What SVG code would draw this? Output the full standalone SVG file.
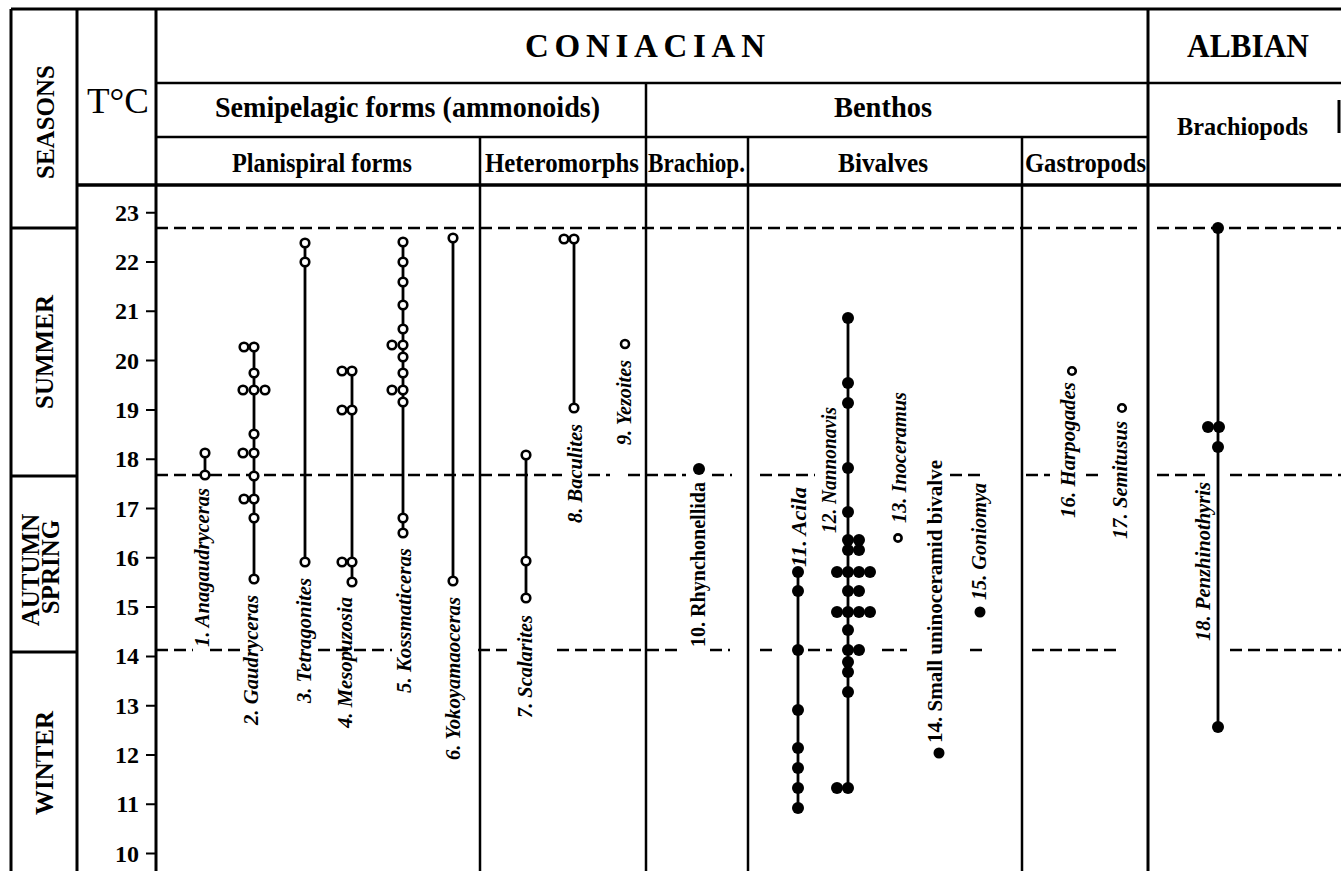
<svg xmlns="http://www.w3.org/2000/svg" width="1341" height="871" viewBox="0 0 1341 871">
<style>
.ln{stroke:#000;fill:none;stroke-width:2.2}
.b3{stroke-width:3}
.b35{stroke-width:3.5}
.dash{stroke:#000;stroke-width:2.4;stroke-dasharray:12 6;fill:none}
.rng{stroke:#000;stroke-width:2.8}
.o{fill:#fff;stroke:#000;stroke-width:2.6}
.f{fill:#000}
text{font-family:"Liberation Serif","Times New Roman",serif;fill:#000}
.lab{font-size:22px;font-weight:bold;font-style:italic}
.labu{font-size:22px;font-weight:bold}
.h1{font-size:33px;font-weight:bold}
.h2{font-size:30px;font-weight:bold}
.h3{font-size:27px;font-weight:bold}
.sea{font-size:25px;font-weight:bold;text-anchor:middle}
.tk{font-size:24px;font-weight:bold;text-anchor:end}
</style>
<rect width="1341" height="871" fill="#fff"/>
<g id="frame">
<path class="ln b3" d="M11 9H1341M11 9V871M77 9V871M156 9V871M1148 9V871M11 228H77M11 476H77M11 652H77M1339 100V133"/>
<path class="ln" d="M156 83H1341M156 137H1148M480 137V871M646 83V871M748 137V871M1022 137V871" style="stroke-width:2.5"/>
<path class="ln b35" d="M77 185H1341"/>
</g>
<g id="headers">
<text class="h1" x="525" y="57" textLength="240" lengthAdjust="spacing">CONIACIAN</text>
<text class="h1" x="1187" y="57" textLength="122" lengthAdjust="spacingAndGlyphs">ALBIAN</text>
<text x="87" y="113" style="font-size:36px" textLength="62" lengthAdjust="spacingAndGlyphs">T°C</text>
<text class="h2" x="215" y="117" textLength="385" lengthAdjust="spacingAndGlyphs">Semipelagic forms (ammonoids)</text>
<text class="h2" x="834" y="117" textLength="98" lengthAdjust="spacingAndGlyphs">Benthos</text>
<text class="h3" x="232" y="172" textLength="180" lengthAdjust="spacingAndGlyphs">Planispiral forms</text>
<text class="h3" x="485" y="172" textLength="154" lengthAdjust="spacingAndGlyphs">Heteromorphs</text>
<text class="h3" x="648" y="172" textLength="97" lengthAdjust="spacingAndGlyphs">Brachiop.</text>
<text class="h3" x="838" y="172" textLength="90" lengthAdjust="spacingAndGlyphs">Bivalves</text>
<text class="h3" x="1025" y="172" textLength="121" lengthAdjust="spacingAndGlyphs">Gastropods</text>
<text class="h3" x="1177" y="135" style="font-size:25px" textLength="131" lengthAdjust="spacingAndGlyphs">Brachiopods</text>
</g>
<g id="seasons">
<text class="sea" transform="translate(54,122) rotate(-90)">SEASONS</text>
<text class="sea" transform="translate(53,352) rotate(-90)">SUMMER</text>
<text class="sea" transform="translate(39,570) rotate(-90)">AUTUMN</text>
<text class="sea" transform="translate(59,567) rotate(-90)">SPRING</text>
<text class="sea" transform="translate(53,763) rotate(-90)">WINTER</text>
</g>
<g id="axis">
<path class="ln" style="stroke-width:2" d="M146 212.7H156M146 262H156M146 311.3H156M146 360.6H156M146 409.9H156M146 459.2H156M146 508.5H156M146 557.8H156M146 607.1H156M146 656.4H156M146 705.7H156M146 755H156M146 804.3H156M146 853.6H156"/>
<text class="tk" x="139" y="220.7">23</text>
<text class="tk" x="139" y="270">22</text>
<text class="tk" x="139" y="319.3">21</text>
<text class="tk" x="139" y="368.6">20</text>
<text class="tk" x="139" y="417.9">19</text>
<text class="tk" x="139" y="467.2">18</text>
<text class="tk" x="139" y="516.5">17</text>
<text class="tk" x="139" y="565.8">16</text>
<text class="tk" x="139" y="615.1">15</text>
<text class="tk" x="139" y="664.4">14</text>
<text class="tk" x="139" y="713.7">13</text>
<text class="tk" x="139" y="763">12</text>
<text class="tk" x="139" y="812.3">11</text>
<text class="tk" x="139" y="861.6">10</text>
</g>
<g id="connectors">
<path class="dash" d="M156 228H1137M1157 228H1341"/>
<path class="dash" d="M156 475H562M588 475H610M628 475H686M712 475H732M760 475H815M950 475H985M1026 475H1050M1086 475H1104M1157 475H1207M1230 475H1341"/>
<path class="dash" d="M156 650H193M210 650H243M318 650H392M478 650H507M557 650H682M710 650H730M760 650H773M808 650H832M882 650H907M970 650H983M1032 650H1120M1230 650H1341"/>
</g>
<g id="sp1">
<path class="rng" d="M205 453V475"/>
<circle class="o" cx="205" cy="453" r="4.3"/><circle class="o" cx="205" cy="475" r="4.3"/>
<text class="lab" transform="translate(209,647) rotate(-90)" textLength="159" lengthAdjust="spacingAndGlyphs">1. Anagaudryceras</text>
</g>
<g id="sp2">
<path class="rng" d="M254 347V579"/>
<circle class="o" cx="244" cy="347" r="4.3"/><circle class="o" cx="254" cy="347" r="4.3"/>
<circle class="o" cx="254" cy="373" r="4.3"/>
<circle class="o" cx="243" cy="390" r="4.3"/><circle class="o" cx="265" cy="390" r="4.3"/><circle class="o" cx="254" cy="390" r="4.3"/>
<circle class="o" cx="254" cy="434" r="4.3"/>
<circle class="o" cx="243" cy="453" r="4.3"/><circle class="o" cx="254" cy="453" r="4.3"/>
<circle class="o" cx="254" cy="476" r="4.3"/>
<circle class="o" cx="244" cy="499" r="4.3"/><circle class="o" cx="254" cy="499" r="4.3"/>
<circle class="o" cx="254" cy="518" r="4.3"/>
<circle class="o" cx="254" cy="579" r="4.3"/>
<text class="lab" transform="translate(258,725) rotate(-90)" textLength="130" lengthAdjust="spacingAndGlyphs">2. Gaudryceras</text>
</g>
<g id="sp3">
<path class="rng" d="M305 243V562"/>
<circle class="o" cx="305" cy="243" r="4.3"/><circle class="o" cx="305" cy="262" r="4.3"/><circle class="o" cx="305" cy="562" r="4.3"/>
<text class="lab" transform="translate(311,703) rotate(-90)" textLength="125" lengthAdjust="spacingAndGlyphs">3. Tetragonites</text>
</g>
<g id="sp4">
<path class="rng" d="M352 371V582"/>
<circle class="o" cx="342" cy="371" r="4.3"/><circle class="o" cx="352" cy="371" r="4.3"/>
<circle class="o" cx="342" cy="410" r="4.3"/><circle class="o" cx="352" cy="410" r="4.3"/>
<circle class="o" cx="342" cy="562" r="4.3"/><circle class="o" cx="352" cy="562" r="4.3"/>
<circle class="o" cx="352" cy="582" r="4.3"/>
<text class="lab" transform="translate(352,728) rotate(-90)" textLength="131" lengthAdjust="spacingAndGlyphs">4. Mesopuzosia</text>
</g>
<g id="sp5">
<path class="rng" d="M403 242V533"/>
<circle class="o" cx="403" cy="242" r="4.3"/><circle class="o" cx="403" cy="262" r="4.3"/><circle class="o" cx="403" cy="282" r="4.3"/>
<circle class="o" cx="403" cy="305" r="4.3"/><circle class="o" cx="403" cy="329" r="4.3"/>
<circle class="o" cx="392" cy="345" r="4.3"/><circle class="o" cx="403" cy="345" r="4.3"/>
<circle class="o" cx="403" cy="357" r="4.3"/><circle class="o" cx="403" cy="373" r="4.3"/>
<circle class="o" cx="392" cy="390" r="4.3"/><circle class="o" cx="403" cy="390" r="4.3"/>
<circle class="o" cx="403" cy="402" r="4.3"/>
<circle class="o" cx="403" cy="518" r="4.3"/><circle class="o" cx="403" cy="533" r="4.3"/>
<text class="lab" transform="translate(411,693) rotate(-90)" textLength="145" lengthAdjust="spacingAndGlyphs">5. Kossmaticeras</text>
</g>
<g id="sp6">
<path class="rng" d="M453 238V581"/>
<circle class="o" cx="453" cy="238" r="4.3"/><circle class="o" cx="453" cy="581" r="4.3"/>
<text class="lab" transform="translate(460,760) rotate(-90)" textLength="163" lengthAdjust="spacingAndGlyphs">6. Yokoyamaoceras</text>
</g>
<g id="sp7">
<path class="rng" d="M526 455V598"/>
<circle class="o" cx="526" cy="455" r="4.3"/><circle class="o" cx="526" cy="561" r="4.3"/><circle class="o" cx="526" cy="598" r="4.3"/>
<text class="lab" transform="translate(532,718) rotate(-90)" textLength="103" lengthAdjust="spacingAndGlyphs">7. Scalarites</text>
</g>
<g id="sp8">
<path class="rng" d="M574 239V408"/>
<circle class="o" cx="564" cy="239" r="4.3"/><circle class="o" cx="574" cy="239" r="4.3"/><circle class="o" cx="574" cy="408" r="4.3"/>
<text class="lab" transform="translate(582,523) rotate(-90)" textLength="99" lengthAdjust="spacingAndGlyphs">8. Baculites</text>
</g>
<g id="sp9">
<circle class="o" cx="625" cy="344" r="4"/>
<text class="lab" transform="translate(631,445) rotate(-90)" textLength="85" lengthAdjust="spacingAndGlyphs">9. Yezoites</text>
</g>
<g id="sp10">
<circle class="f" cx="699" cy="469" r="6"/>
<text class="labu" transform="translate(705,647) rotate(-90)" textLength="165" lengthAdjust="spacingAndGlyphs">10. Rhynchonellida</text>
</g>
<g id="sp11">
<path class="rng" d="M798 572V808"/>
<circle class="f" cx="798" cy="572" r="6"/><circle class="f" cx="798" cy="591" r="6"/><circle class="f" cx="798" cy="650" r="6"/>
<circle class="f" cx="798" cy="710" r="6"/><circle class="f" cx="798" cy="748" r="6"/><circle class="f" cx="798" cy="768" r="6"/>
<circle class="f" cx="798" cy="788" r="6"/><circle class="f" cx="798" cy="808" r="6"/>
<text class="lab" transform="translate(806,567) rotate(-90)" textLength="80" lengthAdjust="spacingAndGlyphs">11. Acila</text>
</g>
<g id="sp12">
<path class="rng" d="M848 318V788"/>
<circle class="f" cx="848" cy="318" r="6"/><circle class="f" cx="848" cy="383" r="6"/><circle class="f" cx="848" cy="403" r="6"/>
<circle class="f" cx="848" cy="468" r="6"/><circle class="f" cx="848" cy="512" r="6"/>
<circle class="f" cx="848" cy="540" r="6"/><circle class="f" cx="859" cy="540" r="6"/>
<circle class="f" cx="848" cy="550" r="6"/><circle class="f" cx="859" cy="550" r="6"/>
<circle class="f" cx="837" cy="572" r="6"/><circle class="f" cx="848" cy="572" r="6"/><circle class="f" cx="859" cy="572" r="6"/><circle class="f" cx="870" cy="572" r="6"/>
<circle class="f" cx="848" cy="591" r="6"/><circle class="f" cx="859" cy="591" r="6"/>
<circle class="f" cx="837" cy="612" r="6"/><circle class="f" cx="848" cy="612" r="6"/><circle class="f" cx="859" cy="612" r="6"/><circle class="f" cx="870" cy="612" r="6"/>
<circle class="f" cx="848" cy="630" r="6"/>
<circle class="f" cx="848" cy="650" r="6"/><circle class="f" cx="859" cy="650" r="6"/>
<circle class="f" cx="848" cy="662" r="6"/><circle class="f" cx="848" cy="672" r="6"/><circle class="f" cx="848" cy="692" r="6"/>
<circle class="f" cx="837" cy="788" r="6"/><circle class="f" cx="848" cy="788" r="6"/>
<text class="lab" transform="translate(836,533) rotate(-90)" textLength="126" lengthAdjust="spacingAndGlyphs">12. Nannonavis</text>
</g>
<g id="sp13">
<circle class="o" cx="898" cy="538" r="3.6"/>
<text class="lab" transform="translate(906,523) rotate(-90)" textLength="131" lengthAdjust="spacingAndGlyphs">13. Inoceramus</text>
</g>
<g id="sp14">
<circle class="f" cx="939" cy="753" r="5.5"/>
<text class="labu" transform="translate(942,743) rotate(-90)" textLength="283" lengthAdjust="spacingAndGlyphs">14. Small uninoceramid bivalve</text>
</g>
<g id="sp15">
<circle class="f" cx="980" cy="612" r="5.5"/>
<text class="lab" transform="translate(986,600) rotate(-90)" textLength="117" lengthAdjust="spacingAndGlyphs">15. Goniomya</text>
</g>
<g id="sp16">
<circle class="o" cx="1072" cy="371" r="3.8"/>
<text class="lab" transform="translate(1075,518) rotate(-90)" textLength="136" lengthAdjust="spacingAndGlyphs">16. Harpogades</text>
</g>
<g id="sp17">
<circle class="o" cx="1122" cy="408" r="3.8"/>
<text class="lab" transform="translate(1127,539) rotate(-90)" textLength="118" lengthAdjust="spacingAndGlyphs">17. Semitusus</text>
</g>
<g id="sp18">
<path class="rng" d="M1218 228V727"/>
<circle class="f" cx="1218" cy="228" r="6"/>
<circle class="f" cx="1208" cy="427" r="6"/><circle class="f" cx="1219" cy="427" r="6"/>
<circle class="f" cx="1218" cy="447" r="6"/><circle class="f" cx="1218" cy="727" r="6"/>
<text class="lab" transform="translate(1210,641) rotate(-90)" textLength="159" lengthAdjust="spacingAndGlyphs">18. Penzhinothyris</text>
</g>
</svg>
